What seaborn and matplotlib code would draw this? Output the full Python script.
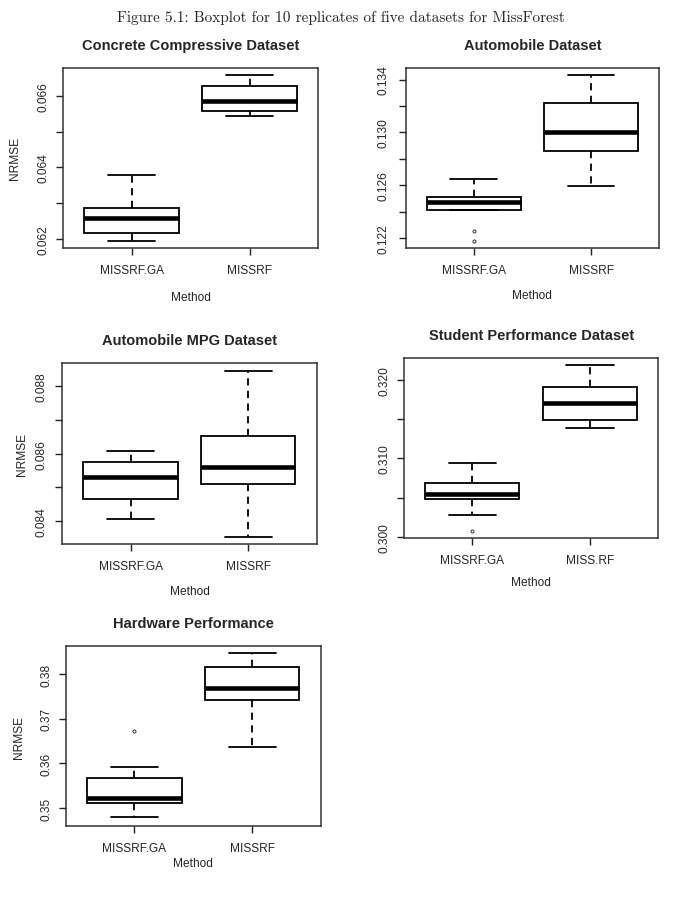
import pandas as pd

# visualization libraries
import matplotlib
matplotlib.use("Agg")
import matplotlib.pyplot as plt
import seaborn as sns

# set seaborn style
sns.set_style("ticks")
plt.rcParams['font.family'] = ['Liberation Sans', 'DejaVu Sans']

# 10 replicate NRMSE values per method
titles = ["Concrete Compressive Dataset", "Automobile Dataset",
          "Automobile MPG Dataset", "Student Performance Dataset",
          "Hardware Performance"]
methods = [["MISSRF.GA", "MISSRF"], ["MISSRF.GA", "MISSRF"],
           ["MISSRF.GA", "MISSRF"], ["MISSRF.GA", "MISS.RF"],
           ["MISSRF.GA", "MISSRF"]]

concrete_ga = [0.06194, 0.06205, 0.06216, 0.06216, 0.06258, 0.06258, 0.06286, 0.06286, 0.0632, 0.06378]
concrete_rf = [0.06543, 0.06550, 0.06559, 0.06559, 0.06587, 0.06587, 0.06629, 0.06629, 0.0664, 0.06658]
auto_ga = [0.12177, 0.12255, 0.12415, 0.12415, 0.12476, 0.12476, 0.12509, 0.12509, 0.1258, 0.12648]
auto_rf = [0.12595, 0.1272, 0.12856, 0.12856, 0.1300, 0.1300, 0.13222, 0.13222, 0.1330, 0.13436]
mpg_ga = [0.08406, 0.0844, 0.08466, 0.08466, 0.08531, 0.08531, 0.08574, 0.08574, 0.0859, 0.08607]
mpg_rf = [0.08352, 0.0845, 0.08511, 0.08511, 0.08560, 0.08560, 0.08653, 0.08653, 0.0875, 0.08846]
student_ga = [0.30076, 0.30284, 0.30483, 0.30483, 0.30542, 0.30542, 0.30686, 0.30686, 0.3080, 0.30940]
student_rf = [0.31390, 0.3145, 0.31492, 0.31492, 0.31700, 0.31700, 0.31911, 0.31911, 0.3205, 0.32187]
hardware_ga = [0.34805, 0.3500, 0.35112, 0.35112, 0.35217, 0.35217, 0.35670, 0.35670, 0.35926, 0.36731]
hardware_rf = [0.36360, 0.3700, 0.37433, 0.37433, 0.37700, 0.37700, 0.38157, 0.38157, 0.3830, 0.38478]

series = [(concrete_ga, concrete_rf), (auto_ga, auto_rf), (mpg_ga, mpg_rf),
          (student_ga, student_rf), (hardware_ga, hardware_rf)]

# y axis ticks (labels left blank where R dropped them)
yticks = [[0.062, 0.063, 0.064, 0.065, 0.066],
          [0.122, 0.124, 0.126, 0.128, 0.130, 0.132, 0.134],
          [0.084, 0.085, 0.086, 0.087, 0.088],
          [0.300, 0.305, 0.310, 0.315, 0.320],
          [0.35, 0.36, 0.37, 0.38]]
ylabels = [["0.062", "", "0.064", "", "0.066"],
           ["0.122", "", "0.126", "", "0.130", "", "0.134"],
           ["0.084", "", "0.086", "", "0.088"],
           ["0.300", "", "0.310", "", "0.320"],
           ["0.35", "0.36", "0.37", "0.38"]]
ylims = [(0.06175, 0.06678), (0.12124, 0.13486), (0.08332, 0.08868),
         (0.29987, 0.32272), (0.34590, 0.38628)]

# axes boxes in figure fractions
boxes = [[0.0931, 0.7246, 0.3767, 0.1991],
         [0.5993, 0.7246, 0.3742, 0.1988],
         [0.0920, 0.3971, 0.3758, 0.1999],
         [0.5968, 0.4038, 0.3756, 0.1988],
         [0.0975, 0.0848, 0.3762, 0.1991]]
show_ylabel = [True, False, True, False, True]
xlabel_pads = [10.5, 9, 9.5, 7, 1.8]
ylabel_pads = [11.5, 0, 5.5, 0, 11.5]
ytick_pads = [4.8, 6.6, 5.4, 4.8, 4.6]

fig = plt.figure(figsize=(6.77, 9.04), dpi=100)
fig.text(0.503, 0.988, "Figure 5.1: Boxplot for 10 replicates of five datasets for MissForest",
         ha='center', va='top', fontsize=11, family='cmr10')

for i in range(5):
    ax = fig.add_axes(boxes[i])
    ga, rf = series[i]
    df = pd.DataFrame({"Method": [methods[i][0]] * len(ga) + [methods[i][1]] * len(rf),
                       "NRMSE": ga + rf})
    sns.boxplot(data=df, x="Method", y="NRMSE", ax=ax, color="white",
                linecolor="black", linewidth=1.3, width=0.8, whis=1.5,
                whiskerprops=dict(linestyle=(0, (4, 3))),
                medianprops=dict(linewidth=3.3),
                flierprops=dict(marker='o', markersize=2.2, markerfacecolor='none',
                                markeredgecolor='#333', markeredgewidth=0.7))
    ax.set_xlim(-0.58, 1.58)
    ax.set_ylim(*ylims[i])
    ax.set_yticks(yticks[i])
    ax.set_yticklabels(ylabels[i], rotation=90, va='center', fontsize=8.6)
    for lab in ax.get_xticklabels():
        lab.set_fontsize(8.6)
    ax.tick_params(axis='both', length=5, width=1, color='#222')
    ax.tick_params(axis='x', pad=6.6)
    ax.tick_params(axis='y', pad=ytick_pads[i])
    for sp in ax.spines.values():
        sp.set_visible(True)
        sp.set_color('#333')
        sp.set_linewidth(1.1)
    ax.set_title(titles[i], fontsize=10.5, fontweight='bold', pad=14)
    ax.set_xlabel("Method", fontsize=8.6, labelpad=xlabel_pads[i])
    if show_ylabel[i]:
        ax.set_ylabel("NRMSE", fontsize=8.6, labelpad=ylabel_pads[i])
    else:
        ax.set_ylabel("")

fig.savefig("out.png", dpi=100)
